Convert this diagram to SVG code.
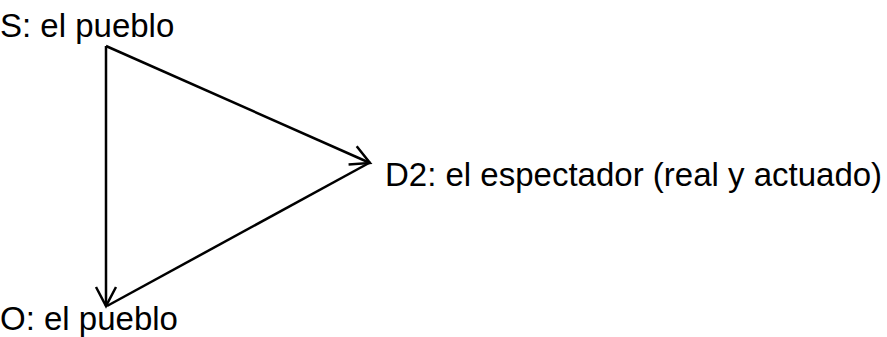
<svg xmlns="http://www.w3.org/2000/svg" width="887" height="337" viewBox="0 0 887 337">
<style>
text{font-family:"Liberation Sans",Arial,sans-serif;font-size:33px;fill:#000}
.c{stroke:#000;stroke-width:2.5;fill:none}
</style>
<defs>
<marker id="a" markerUnits="userSpaceOnUse" markerWidth="30" markerHeight="30" viewBox="-25 -15 30 30" refX="0" refY="0" orient="auto">
<path d="M-19,-10 L0,0 L-19,10" fill="none" stroke="#000" stroke-width="2.5"/>
</marker>
</defs>
<g id="connectors">
<line class="c" x1="106" y1="46" x2="106" y2="306" marker-end="url(#a)"/>
<line class="c" x1="106" y1="46" x2="370" y2="163" marker-end="url(#a)"/>
<line class="c" x1="369" y1="163" x2="107" y2="306"/>
</g>
<g id="S"><text x="0" y="37">S: el pueblo</text></g>
<g id="D2"><text x="385" y="186">D2: el espectador (real y actuado)</text></g>
<g id="O"><text x="0" y="330">O: el pueblo</text></g>
</svg>
